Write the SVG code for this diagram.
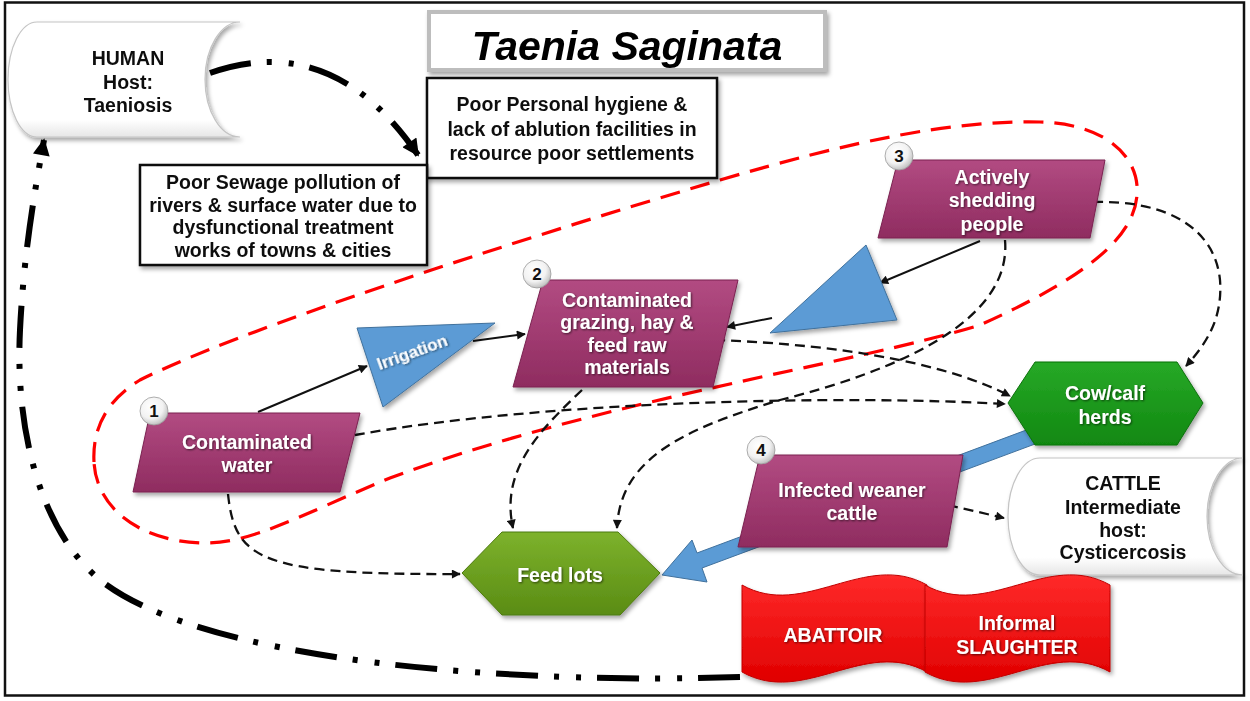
<svg xmlns="http://www.w3.org/2000/svg" width="1250" height="701" viewBox="0 0 1250 701">
<defs>
<style>
.box{fill:#fff;stroke:#111;stroke-width:2.5}
.bt{font-family:"Liberation Sans",Arial,sans-serif;font-weight:bold;font-size:19.5px;fill:#111;text-anchor:middle}
.nt{font-family:"Liberation Sans",Arial,sans-serif;font-weight:bold;font-size:19.5px;fill:#fff;text-anchor:middle}
.para{fill:url(#gPara);stroke:#7a2150;stroke-width:1}
.badge{fill:url(#gBadge);stroke:#9a9a9a;stroke-width:0.8}
.bnum{font-family:"Liberation Sans",Arial,sans-serif;font-weight:bold;font-size:17px;fill:#111;text-anchor:middle}
.thin{fill:none;stroke:#111;stroke-width:2}
.dash{fill:none;stroke:#111;stroke-width:2.3;stroke-dasharray:10 6}
.dd{fill:none;stroke:#000;stroke-width:6;stroke-dasharray:42 16 5 17 5 16}
.blue{fill:#5b9bd5;stroke:#41719c;stroke-width:1}
.scroll{fill:url(#gScroll);stroke:#c4c4c4;stroke-width:1.2}
.ban{fill:url(#gRed);stroke:#c00000;stroke-width:1}
</style>
<linearGradient id="gPara" x1="0" y1="0" x2="0" y2="1"><stop offset="0" stop-color="#b24b82"/><stop offset="1" stop-color="#8f2c60"/></linearGradient>
<linearGradient id="gGreen" x1="0" y1="0" x2="0" y2="1"><stop offset="0" stop-color="#27a927"/><stop offset="1" stop-color="#118811"/></linearGradient>
<linearGradient id="gOlive" x1="0" y1="0" x2="0" y2="1"><stop offset="0" stop-color="#7db22c"/><stop offset="1" stop-color="#5a8c14"/></linearGradient>
<linearGradient id="gRed" x1="0" y1="0" x2="0" y2="1"><stop offset="0" stop-color="#ff2a2a"/><stop offset="1" stop-color="#e00000"/></linearGradient>
<linearGradient id="gScroll" x1="0" y1="0" x2="0" y2="1"><stop offset="0" stop-color="#ffffff"/><stop offset="0.85" stop-color="#ffffff"/><stop offset="1" stop-color="#e6e6e6"/></linearGradient>
<radialGradient id="gBadge" cx="0.4" cy="0.35" r="0.7"><stop offset="0" stop-color="#ffffff"/><stop offset="0.6" stop-color="#f2f2f2"/><stop offset="1" stop-color="#b8b8b8"/></radialGradient>
<filter id="sh" x="-10%" y="-10%" width="130%" height="140%"><feDropShadow dx="2" dy="3" stdDeviation="2" flood-opacity="0.35"/></filter>
<filter id="tsh" x="-5%" y="-20%" width="110%" height="150%"><feDropShadow dx="1" dy="1" stdDeviation="0.8" flood-color="#000" flood-opacity="0.6"/></filter>
<marker id="ah" viewBox="0 0 10 10" refX="9" refY="5" markerUnits="userSpaceOnUse" markerWidth="10" markerHeight="9" orient="auto"><path d="M0,0 L10,5 L0,10 Z" fill="#111"/></marker>
<marker id="ahb" viewBox="0 0 10 10" refX="9" refY="5" markerUnits="userSpaceOnUse" markerWidth="20" markerHeight="17" orient="auto"><path d="M0,0 L10,5 L0,10 Z" fill="#000"/></marker>
</defs>
<rect x="0" y="0" width="1250" height="701" fill="#fff"/>
<rect x="5" y="2.5" width="1239" height="693" fill="none" stroke="#111" stroke-width="2.5"/>

<g id="red-loop">
<path d="M94,462 C92,425 110,398 140,380 C240,330 500,245 720,180 C850,142 950,120 1040,122 C1110,124 1140,160 1137,195 C1134,240 1080,280 980,325 C850,365 600,400 390,478 C300,515 250,545 200,543 C135,540 96,505 94,462 Z" fill="none" stroke="#ff0000" stroke-width="3.2" stroke-dasharray="20 11"/>
</g>

<g id="title" filter="url(#sh)">
<rect x="429" y="12" width="396" height="58" fill="#fff" stroke="#bdbdbd" stroke-width="4"/>
<text x="627" y="60" font-family="'Liberation Sans',Arial,sans-serif" font-weight="bold" font-style="italic" font-size="41" text-anchor="middle" fill="#000">Taenia Saginata</text>
</g>

<g id="connectors">
<path class="dd" d="M210,73 C290,45 360,70 418,155" marker-end="url(#ahb)"/>
<path class="dd" d="M740,677 C500,685 200,660 100,580 C40,530 15,430 20,330 C24,250 35,190 44,140" marker-end="url(#ahb)"/>
<path class="thin" d="M258,412 L367,366" marker-end="url(#ah)"/>
<path class="thin" d="M473,341 L525,334" marker-end="url(#ah)"/>
<path class="thin" d="M980,241 L880,283" marker-end="url(#ah)"/>
<path class="thin" d="M772,318 L727,327" marker-end="url(#ah)"/>
<path class="dash" d="M355,435 C550,400 850,395 1005,404" marker-end="url(#ah)"/>
<path class="dash" d="M715,340 C850,345 950,365 1010,396" marker-end="url(#ah)"/>
<path class="dash" d="M1093,202 C1170,200 1215,230 1220,280 C1223,320 1205,345 1186,366" marker-end="url(#ah)"/>
<path class="dash" d="M1005,240 C1012,320 900,370 780,400 C680,430 620,460 617,528" marker-end="url(#ah)"/>
<path class="dash" d="M582,390 C540,430 500,470 513,528" marker-end="url(#ah)"/>
<path class="dash" d="M228,494 C235,560 260,575 460,574" marker-end="url(#ah)"/>
<path class="dash" d="M948,505 L1004,518" marker-end="url(#ah)"/>
<polygon class="blue" points="1029,429 697,553 692,540 662,575 707,582 702,568 1035,444"/>
</g>

<g id="human-host" filter="url(#sh)">
<path class="scroll" d="M37,22 L240,22 A35,57.5 0 0 0 240,137 L37,137 A29,57.5 0 0 1 37,22 Z"/>
<text class="bt" x="128" y="65">HUMAN</text>
<text class="bt" x="128" y="89">Host:</text>
<text class="bt" x="128" y="112">Taeniosis</text>
</g>

<g id="hygiene-box" filter="url(#sh)">
<rect class="box" x="427" y="78" width="290" height="100"/>
<text class="bt" x="572" y="111">Poor Personal hygiene &amp;</text>
<text class="bt" x="572" y="136">lack of ablution facilities in</text>
<text class="bt" x="572" y="160">resource poor settlements</text>
</g>

<g id="sewage-box" filter="url(#sh)">
<rect class="box" x="140" y="165" width="287" height="100"/>
<text class="bt" x="283" y="189">Poor Sewage pollution of</text>
<text class="bt" x="283" y="212">rivers &amp; surface water due to</text>
<text class="bt" x="283" y="234">dysfunctional treatment</text>
<text class="bt" x="283" y="257">works of towns &amp; cities</text>
</g>

<g id="irrigation" filter="url(#sh)">
<polygon class="blue" points="357,328 495,323 383,407"/>
<text x="412" y="358" transform="rotate(-20 412 352)" font-family="'Liberation Sans',Arial,sans-serif" font-weight="bold" font-size="17" fill="#fff" text-anchor="middle" filter="url(#tsh)">Irrigation</text>
</g>

<g id="triangle-2" filter="url(#sh)">
<polygon class="blue" points="866,245 897,320 770,333"/>
</g>

<g id="node-1">
<polygon class="para" points="150,413 360,413 340,492 133,492" filter="url(#sh)"/>
<g filter="url(#tsh)"><text class="nt" x="247" y="449">Contaminated</text><text class="nt" x="247" y="472">water</text></g>
<circle class="badge" cx="154" cy="411" r="14"/><text class="bnum" x="154" y="417">1</text>
</g>

<g id="node-2">
<polygon class="para" points="543,280 738,280 713,387 513,387" filter="url(#sh)"/>
<g filter="url(#tsh)"><text class="nt" x="627" y="307">Contaminated</text><text class="nt" x="627" y="329">grazing, hay &amp;</text><text class="nt" x="627" y="352">feed raw</text><text class="nt" x="627" y="374">materials</text></g>
<circle class="badge" cx="537" cy="274" r="14"/><text class="bnum" x="537" y="280">2</text>
</g>

<g id="node-3">
<polygon class="para" points="898,160 1105,160 1090,238 878,238" filter="url(#sh)"/>
<g filter="url(#tsh)"><text class="nt" x="992" y="184">Actively</text><text class="nt" x="992" y="207">shedding</text><text class="nt" x="992" y="231">people</text></g>
<circle class="badge" cx="899" cy="156" r="14"/><text class="bnum" x="899" y="162">3</text>
</g>

<g id="node-4">
<polygon class="para" points="760,455 963,455 947,547 738,547" filter="url(#sh)"/>
<g filter="url(#tsh)"><text class="nt" x="852" y="497">Infected weaner</text><text class="nt" x="852" y="520">cattle</text></g>
<circle class="badge" cx="761" cy="450" r="14"/><text class="bnum" x="761" y="456">4</text>
</g>

<g id="cow-calf">
<polygon points="1008,403 1035,362 1177,362 1203,403 1177,445 1035,445" fill="url(#gGreen)" stroke="#0d700d" stroke-width="1" filter="url(#sh)"/>
<g filter="url(#tsh)"><text class="nt" x="1105" y="400">Cow/calf</text><text class="nt" x="1105" y="424">herds</text></g>
</g>

<g id="cattle-host" filter="url(#sh)">
<path class="scroll" d="M1040,458 L1243,458 A36,58.5 0 0 0 1243,575 L1040,575 A32,58.5 0 0 1 1040,458 Z"/>
<text class="bt" x="1123" y="490">CATTLE</text>
<text class="bt" x="1123" y="514">Intermediate</text>
<text class="bt" x="1123" y="537">host:</text>
<text class="bt" x="1123" y="559">Cysticercosis</text>
</g>

<g id="feed-lots">
<polygon points="462,573 502,532 618,532 660,573 620,615 502,615" fill="url(#gOlive)" stroke="#4d7a10" stroke-width="1" filter="url(#sh)"/>
<g filter="url(#tsh)"><text class="nt" x="560" y="582">Feed lots</text></g>
</g>

<g id="abattoir">
<path class="ban" d="M742,585 C804,620 865,550 927,585 L927,672 C865,637 804,707 742,672 Z" filter="url(#sh)"/>
<g filter="url(#tsh)"><text class="nt" x="833" y="642">ABATTOIR</text></g>
</g>

<g id="informal-slaughter">
<path class="ban" d="M925,585 C987,620 1048,550 1110,585 L1110,672 C1048,637 987,707 925,672 Z" filter="url(#sh)"/>
<g filter="url(#tsh)"><text class="nt" x="1017" y="630">Informal</text><text class="nt" x="1017" y="654">SLAUGHTER</text></g>
</g>
</svg>
